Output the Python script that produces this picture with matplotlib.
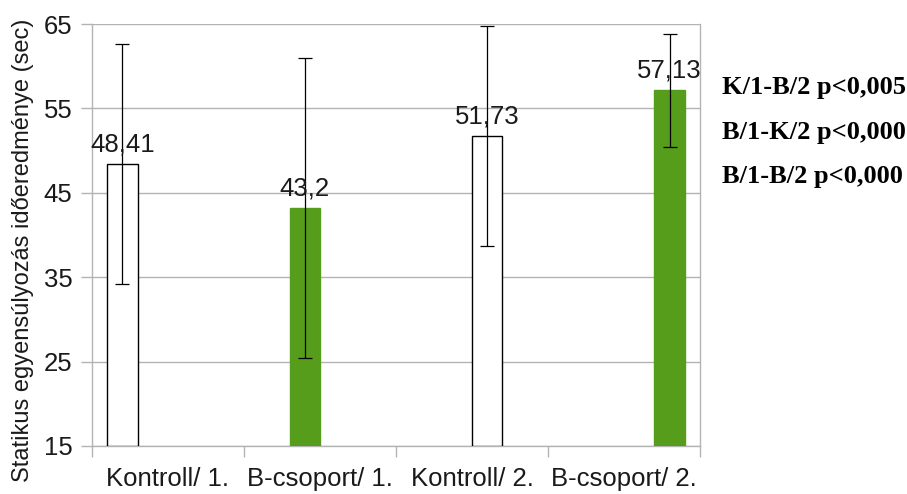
import numpy as np
import matplotlib
matplotlib.use("Agg")
import matplotlib.pyplot as plt
from matplotlib.ticker import FixedLocator

# adatok
kategoriak = ["Kontroll/ 1.", "B-csoport/ 1.", "Kontroll/ 2.", "B-csoport/ 2."]
atlag = [48.41, 43.2, 51.73, 57.13]
szoras = [14.2, 17.8, 13.05, 6.7]
cimkek = ["48,41", "43,2", "51,73", "57,13"]
szignifikancia = ["K/1-B/2 p<0,005", "B/1-K/2 p<0,000", "B/1-B/2 p<0,000"]
y_tickek = [15, 25, 35, 45, 55, 65]

zold = "#579d1c"
szurke = "#b3b3b3"
szinek = ["white", zold, "white", zold]
szelek = ["black", zold, "black", zold]

plt.rcParams["font.family"] = ["Liberation Sans", "DejaVu Sans"]

fig = plt.figure(figsize=(9.07, 4.94), dpi=100)
ax = fig.add_axes([0.1014, 0.0972, 0.6704, 0.8542])

# 4 sorozat, mindegyik csak a saját kategóriájában
n = len(kategoriak)
szel = 0.2
x = np.arange(n) + (np.arange(n) - (n - 1) / 2) * szel
alap = y_tickek[0]
ax.bar(x, np.array(atlag) - alap, bottom=alap, width=szel, color=szinek,
       edgecolor=szelek, linewidth=1.0, zorder=3)
ax.errorbar(x, atlag, yerr=szoras, fmt="none", ecolor="black",
            elinewidth=0.9, capsize=5, capthick=0.9, zorder=4)

for xi, yi, t in zip(x, atlag, cimkek):
    ax.annotate(t, (xi, yi), xytext=(0, 9), textcoords="offset points",
                ha="center", va="baseline", fontsize=18.5, color="#1a1a1a", zorder=5)

ax.set_xlim(-0.5, n - 0.5)
ax.set_ylim(15, 65)
ax.set_yticks(y_tickek)
ax.set_xticks(np.arange(n))
ax.set_xticklabels(kategoriak, fontsize=18.5, color="#1a1a1a")
ax.tick_params(axis="x", which="major", length=0, pad=15)
ax.xaxis.set_minor_locator(FixedLocator(np.arange(n + 1) - 0.5))
ax.tick_params(axis="x", which="minor", length=8, color=szurke, width=1)
ax.tick_params(axis="y", length=8, color=szurke, width=1, labelsize=18.5,
               labelcolor="#1a1a1a", pad=6)

ax.grid(axis="y", color=szurke, linewidth=1, zorder=0)
for s in ["left", "right", "bottom"]:
    ax.spines[s].set_color(szurke)
    ax.spines[s].set_linewidth(1)
ax.spines["top"].set_visible(False)

ax.set_ylabel("Statikus egyensúlyozás időeredménye (sec)", fontsize=17,
              color="#1a1a1a")
ax.yaxis.set_label_coords(-0.095, 0.464)

for i, t in enumerate(szignifikancia):
    fig.text(722 / 907, 1 - (94 + i * 44.5) / 494, t, fontsize=19,
             fontweight="bold", family="Liberation Serif", ha="left",
             va="baseline", color="black")

fig.savefig("out.png", dpi=100)
